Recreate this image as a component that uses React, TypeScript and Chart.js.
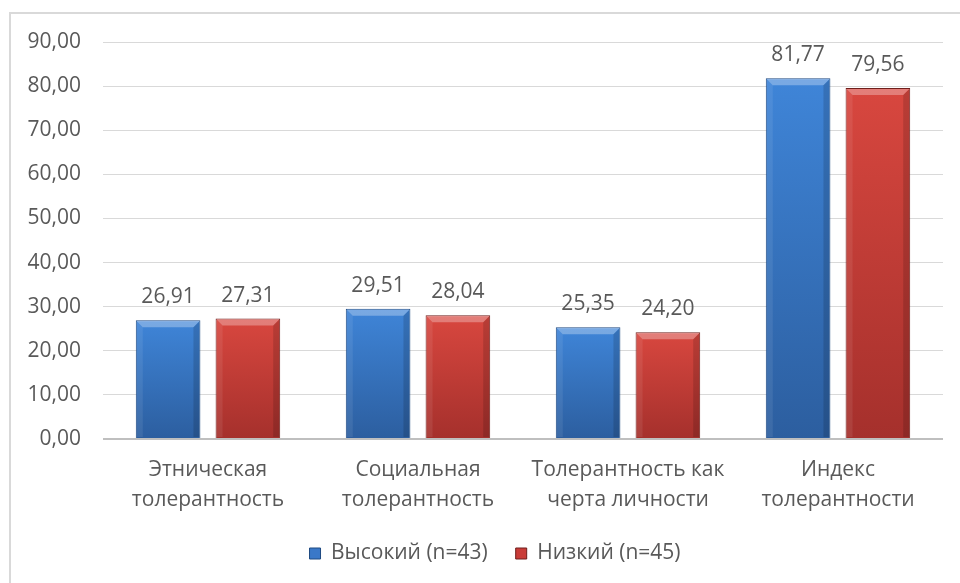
import React, { useEffect, useRef } from "react";
import { Chart, registerables } from "chart.js";

Chart.register(...registerables);

const categories: string[][] = [
  ["Этническая", "толерантность"],
  ["Социальная", "толерантность"],
  ["Толерантность как", "черта личности"],
  ["Индекс", "толерантности"],
];
const seriesNames = ["Высокий (n=43)", "Низкий (n=45)"];
const highValues = [26.91, 29.51, 25.35, 81.77];
const lowValues = [27.31, 28.04, 24.2, 79.56];
const yMin = 0;
const yMax = 90;
const yStep = 10;

const FONT = "'Open Sans', 'Noto Sans', sans-serif";
const TEXT = "#595959";

const palettes = [
  { top: "#3f85d8", bottom: "#2c5e9f", border: "#1f4a82", solid: "#3a78c8" },
  { top: "#d8473f", bottom: "#a5302c", border: "#6e1f1c", solid: "#c93c38" },
];

const fmt = (v: number) => v.toFixed(2).replace(".", ",");

function makeFill(idx: number) {
  return (ctx: any) => {
    const p = palettes[idx];
    const chart = ctx.chart;
    if (!chart.chartArea || ctx.type !== "data") return p.solid;
    const ys = chart.scales.y;
    const top = ys.getPixelForValue(ctx.raw);
    const bottom = ys.getPixelForValue(0);
    const g = chart.ctx.createLinearGradient(0, top, 0, bottom);
    g.addColorStop(0, p.top);
    g.addColorStop(1, p.bottom);
    return g;
  };
}

const bevelPlugin = {
  id: "bevel",
  afterDatasetsDraw(chart: any) {
    const ctx = chart.ctx;
    const b = 6;
    chart.data.datasets.forEach((_: any, di: number) => {
      const meta = chart.getDatasetMeta(di);
      meta.data.forEach((bar: any) => {
        const { x, y, base, width } = bar.getProps(["x", "y", "base", "width"], true);
        const l = x - width / 2 + 1;
        const r = x + width / 2 - 1;
        const t = y + 1;
        const bt = base - 1;
        ctx.save();
        ctx.fillStyle = "rgba(255,255,255,0.3)";
        ctx.beginPath();
        ctx.moveTo(l, t);
        ctx.lineTo(r, t);
        ctx.lineTo(r - b, t + b);
        ctx.lineTo(l + b, t + b);
        ctx.closePath();
        ctx.fill();
        ctx.fillStyle = "rgba(255,255,255,0.08)";
        ctx.beginPath();
        ctx.moveTo(l, t);
        ctx.lineTo(l + b, t + b);
        ctx.lineTo(l + b, bt);
        ctx.lineTo(l, bt);
        ctx.closePath();
        ctx.fill();
        ctx.fillStyle = "rgba(0,0,0,0.14)";
        ctx.beginPath();
        ctx.moveTo(r, t);
        ctx.lineTo(r - b, t + b);
        ctx.lineTo(r - b, bt);
        ctx.lineTo(r, bt);
        ctx.closePath();
        ctx.fill();
        ctx.restore();
      });
    });
  },
};

const labelPlugin = {
  id: "valueLabels",
  afterDatasetsDraw(chart: any) {
    const ctx = chart.ctx;
    ctx.save();
    ctx.font = `21px ${FONT}`;
    ctx.fillStyle = TEXT;
    ctx.textAlign = "center";
    ctx.textBaseline = "alphabetic";
    chart.data.datasets.forEach((ds: any, di: number) => {
      const meta = chart.getDatasetMeta(di);
      meta.data.forEach((bar: any, i: number) => {
        ctx.fillText(fmt(ds.data[i]), bar.x, bar.y - 17);
      });
    });
    ctx.restore();
  },
};

// shift the legend box so it is centred like the original
const legendShift = {
  id: "legendShift",
  afterLayout(chart: any) {
    if (chart.legend) {
      chart.legend.left = 47;
      chart.legend.adjustHitBoxes && chart.legend.adjustHitBoxes();
    }
  },
};

export default function App() {
  const ref = useRef<HTMLCanvasElement>(null);
  useEffect(() => {
    if (!ref.current) return;
    const chart = new Chart(ref.current, {
      type: "bar",
      data: {
        labels: categories,
        datasets: [
          {
            label: seriesNames[0],
            data: highValues,
            backgroundColor: makeFill(0),
            borderColor: palettes[0].border,
            borderWidth: 1,
          },
          {
            label: seriesNames[1],
            data: lowValues,
            backgroundColor: makeFill(1),
            borderColor: palettes[1].border,
            borderWidth: 1,
          },
        ],
      },
      options: {
        animation: false,
        responsive: false,
        maintainAspectRatio: false,
        datasets: { bar: { categoryPercentage: 0.76, barPercentage: 0.81 } },
        layout: { padding: { left: 0, right: 17, top: 42, bottom: 9 } },
        plugins: {
          tooltip: { enabled: false },
          legend: {
            position: "bottom",
            labels: {
              font: { family: FONT, size: 21 },
              color: TEXT,
              boxWidth: 11,
              boxHeight: 11,
              padding: 28,
              generateLabels: () =>
                seriesNames.map((n, i) => ({
                  text: n,
                  fillStyle: palettes[i].solid,
                  strokeStyle: palettes[i].border,
                  lineWidth: 1,
                  fontColor: TEXT,
                  datasetIndex: i,
                  hidden: false,
                })),
            },
          },
        },
        scales: {
          x: {
            afterFit: (s: any) => {
              s.height = 76;
            },
            grid: { display: false, drawTicks: false },
            border: { display: false },
            ticks: {
              color: TEXT,
              font: { family: FONT, size: 21, lineHeight: 30 / 21 },
              padding: 16,
              maxRotation: 0,
              autoSkip: false,
            },
          },
          y: {
            min: yMin,
            max: yMax,
            afterFit: (s: any) => {
              s.width = 103;
            },
            grid: {
              drawTicks: false,
              color: (c: any) => (c.tick && c.tick.value === 0 ? "#bfbfbf" : "#d9d9d9"),
              lineWidth: (c: any) => (c.tick && c.tick.value === 0 ? 2 : 1),
            },
            border: { display: false },
            ticks: {
              stepSize: yStep,
              padding: 22,
              color: TEXT,
              font: { family: FONT, size: 21 },
              callback: (v: any) => fmt(Number(v)),
            },
          },
        },
      },
      plugins: [legendShift, bevelPlugin, labelPlugin],
    });
    return () => chart.destroy();
  }, []);
  return (
    <div style={{ position: "fixed", left: 0, top: 0, width: 960, height: 583, overflow: "hidden", background: "#fff" }}>
      <div
        style={{
          position: "absolute",
          left: 9,
          top: 12,
          width: 1200,
          height: 800,
          border: "2px solid #d9d9d9",
        }}
      />
      <canvas ref={ref} width={960} height={583} style={{ position: "absolute", left: 0, top: 0, width: 960, height: 583 }} />
    </div>
  );
}
